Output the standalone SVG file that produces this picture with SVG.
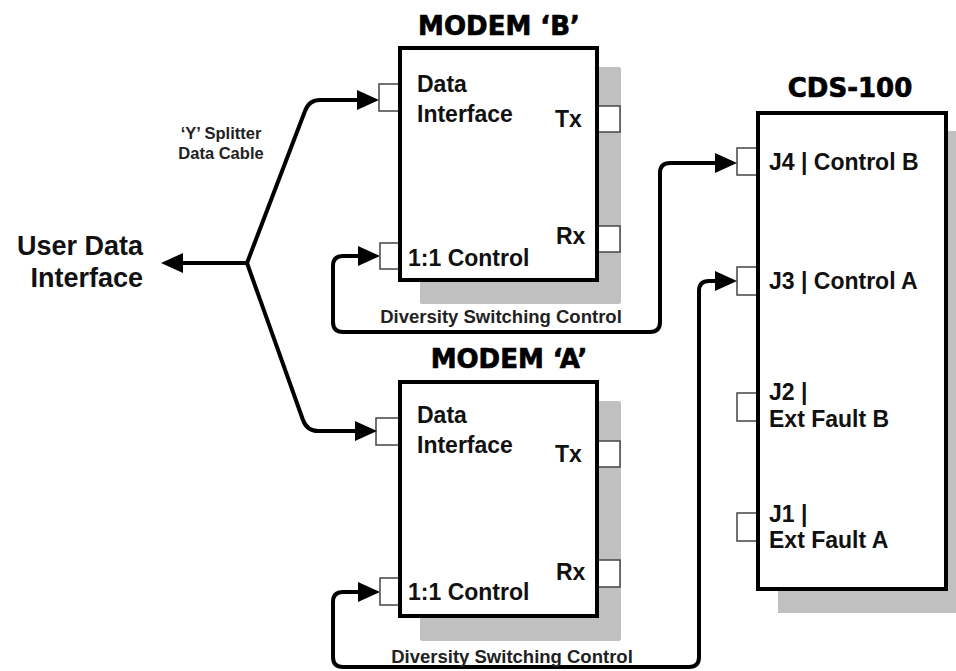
<svg xmlns="http://www.w3.org/2000/svg" width="956" height="671" viewBox="0 0 956 671">
<style>
.shadow{fill:#c0c0c0}
.box{fill:#fff;stroke:#000;stroke-width:4}
.port{fill:#fff;stroke:#444;stroke-width:1.5}
.lbl{font-family:"Liberation Sans",Arial,sans-serif;font-weight:bold;font-size:23px;fill:#111}
.title{font-family:"DejaVu Sans","Liberation Sans",sans-serif;font-weight:bold;font-size:26px;fill:#000;stroke:#000;stroke-width:0.7;text-anchor:middle}
.small{font-family:"Liberation Sans",Arial,sans-serif;font-weight:bold;font-size:18.5px;fill:#222;text-anchor:middle}
.conn{fill:none;stroke:#000;stroke-width:4;stroke-linejoin:round}
</style>
<defs>
<marker id="ah" markerUnits="userSpaceOnUse" markerWidth="24" markerHeight="22" refX="0" refY="10" orient="auto-start-reverse">
<path d="M0,0 L22,10 L0,20 z" fill="#000"/>
</marker>
</defs>
<rect width="956" height="671" fill="#fff"/>

<g id="user-data-interface">
<text class="lbl" style="font-size:27px;text-anchor:end" x="143" y="255">User Data</text>
<text class="lbl" style="font-size:27px;text-anchor:end" x="143" y="287">Interface</text>
</g>

<g id="splitter-label">
<text class="small" style="font-size:16.5px" x="221" y="139">&#8216;Y&#8217; Splitter</text>
<text class="small" style="font-size:16.5px" x="221" y="159">Data Cable</text>
</g>

<g id="modem-b">
<text class="title" x="499" y="35">MODEM &#8216;B&#8217;</text>
<rect class="shadow" x="420" y="67" width="201" height="237" rx="2"/>
<rect class="port" x="598" y="106" width="22" height="26"/>
<rect class="port" x="598" y="226" width="22" height="26"/>
<rect class="port" x="379" y="84" width="21" height="27"/>
<rect class="port" x="380" y="243" width="20" height="26"/>
<rect class="box" x="400" y="48" width="197" height="232"/>
<text class="lbl" x="417" y="92">Data</text>
<text class="lbl" x="417" y="122">Interface</text>
<text class="lbl" x="555" y="127">Tx</text>
<text class="lbl" x="556" y="244">Rx</text>
<text class="lbl" x="408" y="266">1:1 Control</text>
</g>

<g id="modem-a">
<text class="title" x="509" y="368">MODEM &#8216;A&#8217;</text>
<rect class="shadow" x="420" y="401" width="201" height="240" rx="2"/>
<rect class="port" x="598" y="441" width="22" height="26"/>
<rect class="port" x="598" y="560" width="22" height="27"/>
<rect class="port" x="376" y="418" width="23" height="27"/>
<rect class="port" x="380" y="578" width="20" height="27"/>
<rect class="box" x="400" y="382" width="197" height="234"/>
<text class="lbl" x="417" y="423">Data</text>
<text class="lbl" x="417" y="453">Interface</text>
<text class="lbl" x="555" y="462">Tx</text>
<text class="lbl" x="556" y="580">Rx</text>
<text class="lbl" x="408" y="600">1:1 Control</text>
</g>

<g id="cds-100">
<text class="title" x="850" y="97">CDS-100</text>
<rect class="shadow" x="778" y="131" width="190" height="482"/>
<rect class="port" x="737" y="148" width="20" height="27"/>
<rect class="port" x="737" y="267" width="20" height="28"/>
<rect class="port" x="737" y="393" width="20" height="28"/>
<rect class="port" x="737" y="513" width="20" height="28"/>
<rect class="box" x="758" y="113" width="188" height="476"/>
<text class="lbl" x="769" y="170">J4 | Control B</text>
<text class="lbl" x="769" y="289">J3 | Control A</text>
<text class="lbl" x="769" y="400">J2 |</text>
<text class="lbl" x="769" y="427">Ext Fault B</text>
<text class="lbl" x="769" y="522">J1 |</text>
<text class="lbl" x="769" y="548">Ext Fault A</text>
</g>

<g id="connectors">
<path class="conn" d="M247,263 L183,263" marker-end="url(#ah)"/>
<path class="conn" d="M247,263 L305,111 Q309,100 320,100 L357,100" marker-end="url(#ah)"/>
<path class="conn" d="M247,263 L303,420 Q307,431 318,431 L355,431" marker-end="url(#ah)"/>
<path class="conn" d="M358,256 L343,256 Q333,256 333,266 L333,322 Q333,332 343,332 L650,332 Q660,332 660,322 L660,173 Q660,163 670,163 L715,163" marker-start="url(#ah)" marker-end="url(#ah)"/>
<path class="conn" d="M358,592 L343,592 Q333,592 333,602 L333,657 Q333,667 343,667 L689,667 Q699,667 699,657 L699,291 Q699,281 709,281 L715,281" marker-start="url(#ah)" marker-end="url(#ah)"/>
<text class="small" x="501" y="323">Diversity Switching Control</text>
<text class="small" x="512" y="663">Diversity Switching Control</text>
</g>
</svg>
